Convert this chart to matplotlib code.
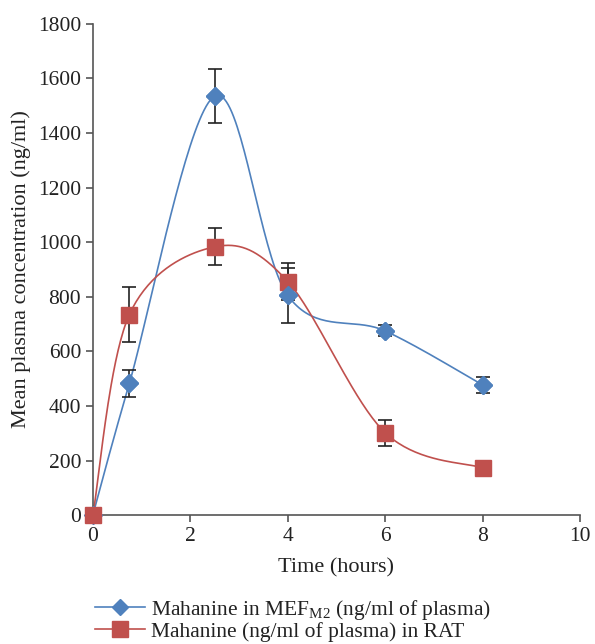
import numpy as np
import matplotlib
matplotlib.use("Agg")
import matplotlib.pyplot as plt

plt.rcParams['font.family'] = ['Liberation Serif', 'DejaVu Serif']
plt.rcParams['mathtext.fontset'] = 'custom'
plt.rcParams['mathtext.rm'] = 'Liberation Serif'

# data
time = [0, 0.75, 2.5, 4, 6, 8]
mef = [0, 483, 1535, 805, 675, 477]
mef_err = [0, 50, 100, 100, 20, 30]
rat = [0, 735, 983, 856, 302, 173]
rat_err = [0, 100, 68, 68, 48, 25]

blue = '#4f81bd'
red = '#c0504d'


def smooth(x, y, n=40):
    # excel-like smoothed line (catmull-rom through the points)
    x = np.asarray(x, float)
    y = np.asarray(y, float)
    px = np.concatenate([[x[0]], x, [x[-1]]])
    py = np.concatenate([[y[0]], y, [y[-1]]])
    xs, ys = [], []
    for i in range(1, len(px) - 2):
        p0 = np.array([px[i - 1], py[i - 1]])
        p1 = np.array([px[i], py[i]])
        p2 = np.array([px[i + 1], py[i + 1]])
        p3 = np.array([px[i + 2], py[i + 2]])
        c1 = p1 + (p2 - p0) / 6
        c2 = p2 - (p3 - p1) / 6
        t = np.linspace(0, 1, n)[:, None]
        b = (1 - t) ** 3 * p1 + 3 * (1 - t) ** 2 * t * c1 + 3 * (1 - t) * t ** 2 * c2 + t ** 3 * p2
        xs.extend(b[:, 0])
        ys.extend(b[:, 1])
    return xs, ys


fig = plt.figure(figsize=(5.95, 6.44), dpi=100)
ax = fig.add_axes([0.156, 0.200, 0.819, 0.763])

sx, sy = smooth(time, mef)
ax.plot(sx, sy, color=blue, lw=1.2)
sx, sy = smooth(time, rat)
ax.plot(sx, sy, color=red, lw=1.2)

ax.errorbar(time, mef, yerr=mef_err, fmt='none', ecolor='#222222', elinewidth=1.2, capsize=5, capthick=1.2, zorder=3)
ax.errorbar(time, rat, yerr=rat_err, fmt='none', ecolor='#222222', elinewidth=1.2, capsize=5, capthick=1.2, zorder=3)
ax.plot(time, mef, 'D', color=blue, ms=9, zorder=4, clip_on=False)
ax.plot(time, rat, 's', color=red, ms=12, zorder=5, clip_on=False)
# blue diamonds drawn over squares except at t=0
ax.plot(time[1:], mef[1:], 'D', color=blue, ms=9, zorder=6)

ax.set_xlim(0, 10)
ax.set_ylim(0, 1800)
ax.set_xticks(range(0, 11, 2))
ax.set_yticks(range(0, 1801, 200))
ax.spines['top'].set_visible(False)
ax.spines['right'].set_visible(False)
for s in ['left', 'bottom']:
    ax.spines[s].set_color('#555555')
    ax.spines[s].set_linewidth(1.2)
ax.tick_params(direction='out', length=5, width=1.2, color='#555555', labelsize=15.5, labelcolor='#222222')
ax.set_xlabel('Time (hours)', fontsize=16, color='#222222', labelpad=9)
ax.set_ylabel('Mean plasma concentration (ng/ml)', fontsize=16, color='#222222', labelpad=5)

h1, = ax.plot([], [], color=blue, marker='D', ms=8, lw=1.2)
h2, = ax.plot([], [], color=red, marker='s', ms=11, lw=1.2)
fig.legend([h1, h2], ['Mahanine in MEF$_{\\mathrm{M2}}$ (ng/ml of plasma)',
                      'Mahanine (ng/ml of plasma) in RAT'],
           loc='lower left', bbox_to_anchor=(0.135, -0.02), frameon=False,
           fontsize=15.5, handlelength=2.3, handletextpad=0.3, labelspacing=0.0, borderpad=0.2,
           labelcolor='#222222')

fig.savefig('out.png', dpi=100)
